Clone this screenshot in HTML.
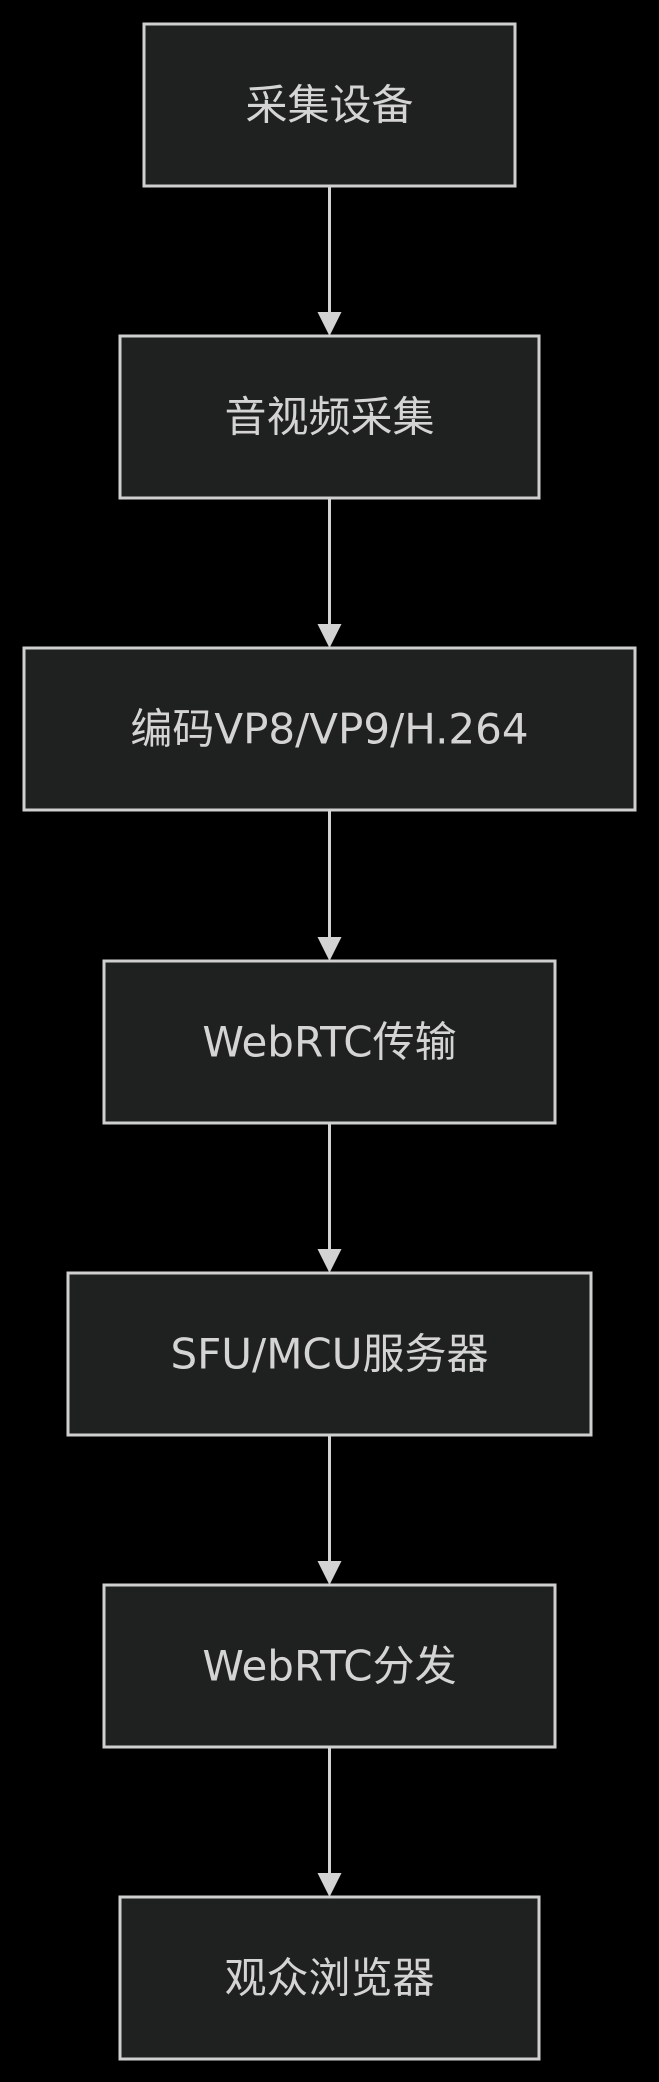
<!DOCTYPE html>
<html><head><meta charset="utf-8"><style>
html,body{margin:0;padding:0;background:#000;}
svg{display:block}
text{font-family:"DejaVu Sans","Noto Sans CJK SC",sans-serif;font-size:42px;fill:#d4d4d4;text-anchor:middle;dominant-baseline:central}
</style></head><body>
<svg width="659" height="2082" viewBox="0 0 659 2082" xmlns="http://www.w3.org/2000/svg">
<rect width="659" height="2082" fill="#000"/>
<g fill="#1f2020" stroke="#cfcfcf" stroke-width="3">
<rect x="144" y="24" width="371" height="162"/>
<rect x="120" y="336" width="419" height="162"/>
<rect x="24" y="648" width="611" height="162"/>
<rect x="104" y="961" width="451" height="162"/>
<rect x="68" y="1273" width="523" height="162"/>
<rect x="104" y="1585" width="451" height="162"/>
<rect x="120" y="1897" width="419" height="162"/>
</g>
<g stroke="#d3d3d3" stroke-width="3">
<line x1="329.5" y1="186" x2="329.5" y2="316"/>
<line x1="329.5" y1="498" x2="329.5" y2="628"/>
<line x1="329.5" y1="810" x2="329.5" y2="941"/>
<line x1="329.5" y1="1123" x2="329.5" y2="1253"/>
<line x1="329.5" y1="1435" x2="329.5" y2="1565"/>
<line x1="329.5" y1="1747" x2="329.5" y2="1877"/>
</g>
<g fill="#d3d3d3">
<polygon points="317.5,312 341.5,312 329.5,336"/>
<polygon points="317.5,624 341.5,624 329.5,648"/>
<polygon points="317.5,937 341.5,937 329.5,961"/>
<polygon points="317.5,1249 341.5,1249 329.5,1273"/>
<polygon points="317.5,1561 341.5,1561 329.5,1585"/>
<polygon points="317.5,1873 341.5,1873 329.5,1897"/>
</g>
<text x="329.5" y="105">采集设备</text>
<text x="329.5" y="417">音视频采集</text>
<text x="329.5" y="729">编码VP8/VP9/H.264</text>
<text x="329.5" y="1042">WebRTC传输</text>
<text x="329.5" y="1354">SFU/MCU服务器</text>
<text x="329.5" y="1666">WebRTC分发</text>
<text x="329.5" y="1978">观众浏览器</text>
</svg>
</body></html>
